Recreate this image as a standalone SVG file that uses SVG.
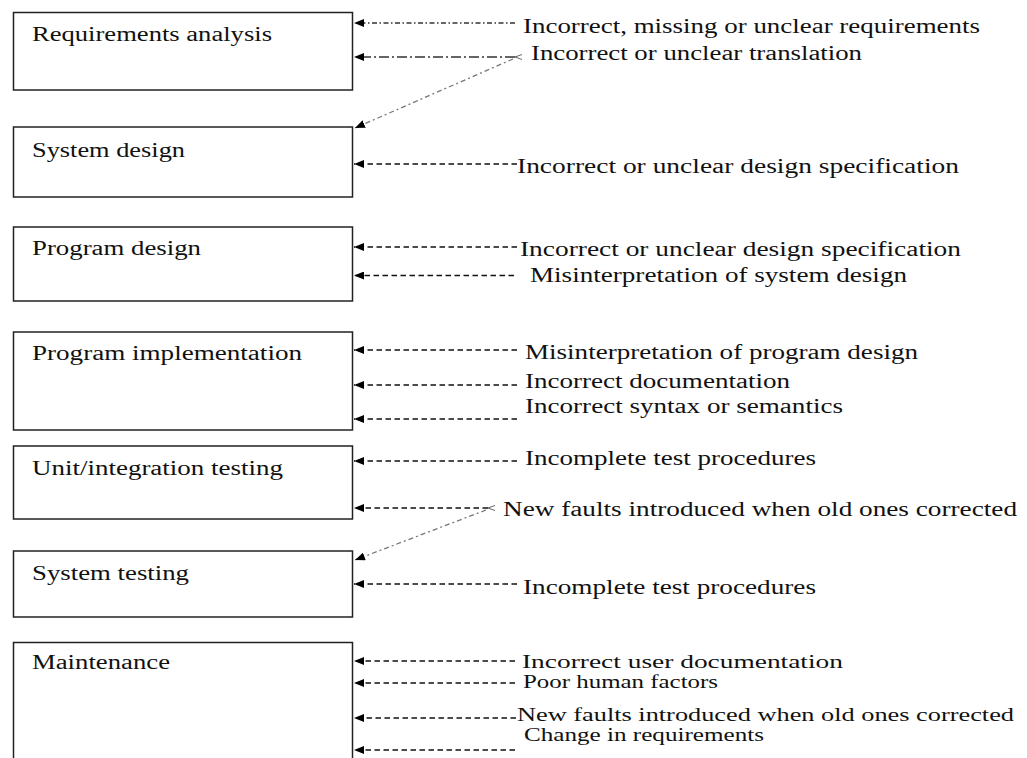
<svg xmlns="http://www.w3.org/2000/svg" width="1027" height="758" viewBox="0 0 1027 758">
<style>
.box{fill:#fff;stroke:#222;stroke-width:1.5}
.lbl{font-family:"Liberation Serif","Times New Roman",serif;font-size:20px;fill:#111}
.sm{font-size:18px}
.dash{fill:none;stroke:#111;stroke-width:1.3;stroke-dasharray:5.5 3.5}
.dd{fill:none;stroke:#333;stroke-width:1.3;stroke-dasharray:5 2.5 1.5 2.5}
.ldd{fill:none;stroke:#333;stroke-width:1.3;stroke-dasharray:10 3 2 3}
.diag{fill:none;stroke:#777;stroke-width:1.3;stroke-dasharray:5 3 2 3}
</style>
<defs>
<marker id="ah" markerUnits="userSpaceOnUse" markerWidth="10" markerHeight="8" refX="10" refY="4" orient="auto">
<path d="M0,0 L10,4 L0,8 z" fill="#000"/>
</marker>
<marker id="sh" markerUnits="userSpaceOnUse" markerWidth="8" markerHeight="6" refX="7" refY="3" orient="auto">
<path d="M0,0.5 L7,3 L0,5.5" fill="none" stroke="#666" stroke-width="1"/>
</marker>
</defs>
<rect width="1027" height="758" fill="#fff"/>
<g id="node-requirements">
<rect class="box" x="13.5" y="12.5" width="339" height="77.5"/>
<text class="lbl" x="32" y="41" textLength="240" lengthAdjust="spacingAndGlyphs">Requirements analysis</text>
</g>
<g id="node-system-design">
<rect class="box" x="13.5" y="127" width="339" height="70"/>
<text class="lbl" x="32" y="157" textLength="153" lengthAdjust="spacingAndGlyphs">System design</text>
</g>
<g id="node-program-design">
<rect class="box" x="13.5" y="227" width="339" height="74"/>
<text class="lbl" x="32" y="255" textLength="169" lengthAdjust="spacingAndGlyphs">Program design</text>
</g>
<g id="node-program-implementation">
<rect class="box" x="13.5" y="332" width="339" height="98"/>
<text class="lbl" x="32" y="360" textLength="270" lengthAdjust="spacingAndGlyphs">Program implementation</text>
</g>
<g id="node-unit-testing">
<rect class="box" x="13.5" y="446" width="339" height="73"/>
<text class="lbl" x="32" y="475" textLength="251" lengthAdjust="spacingAndGlyphs">Unit/integration testing</text>
</g>
<g id="node-system-testing">
<rect class="box" x="13.5" y="551" width="339" height="66"/>
<text class="lbl" x="32" y="580" textLength="157" lengthAdjust="spacingAndGlyphs">System testing</text>
</g>
<g id="node-maintenance">
<rect class="box" x="13.5" y="642.5" width="339" height="130"/>
<text class="lbl" x="32" y="669" textLength="138" lengthAdjust="spacingAndGlyphs">Maintenance</text>
</g>
<g id="connectors">
<line class="dd" x1="515" y1="23" x2="354" y2="23" marker-end="url(#ah)"/>
<line class="ldd" x1="515" y1="57" x2="354" y2="57" marker-start="url(#sh)" marker-end="url(#ah)"/>
<line class="diag" x1="513" y1="59" x2="355" y2="128" marker-end="url(#ah)"/>
<line class="dash" x1="517" y1="164" x2="354" y2="164" marker-end="url(#ah)"/>
<line class="dash" x1="517" y1="247" x2="354" y2="247" marker-end="url(#ah)"/>
<line class="dash" x1="514" y1="275.5" x2="354" y2="275.5" marker-end="url(#ah)"/>
<line class="dash" x1="517" y1="350" x2="354" y2="350" marker-end="url(#ah)"/>
<line class="dash" x1="517" y1="385" x2="354" y2="385" marker-end="url(#ah)"/>
<line class="dash" x1="517" y1="419" x2="354" y2="419" marker-end="url(#ah)"/>
<line class="dash" x1="517" y1="461" x2="354" y2="461" marker-end="url(#ah)"/>
<line class="dash" x1="488" y1="508" x2="354" y2="508" marker-start="url(#sh)" marker-end="url(#ah)"/>
<line class="diag" x1="486" y1="510" x2="355" y2="560" marker-end="url(#ah)"/>
<line class="dash" x1="517" y1="584" x2="354" y2="584" marker-end="url(#ah)"/>
<line class="dash" x1="515" y1="661" x2="354" y2="661" marker-end="url(#ah)"/>
<line class="dash" x1="515" y1="683" x2="354" y2="683" marker-end="url(#ah)"/>
<line class="dash" x1="516" y1="718" x2="354" y2="718" marker-end="url(#ah)"/>
<line class="dash" x1="515" y1="750" x2="354" y2="750" marker-end="url(#ah)"/>
</g>
<g id="labels">
<text class="lbl" x="523" y="33" textLength="457" lengthAdjust="spacingAndGlyphs">Incorrect, missing or unclear requirements</text>
<text class="lbl" x="531" y="60" textLength="331" lengthAdjust="spacingAndGlyphs">Incorrect or unclear translation</text>
<text class="lbl" x="517" y="173" textLength="442" lengthAdjust="spacingAndGlyphs">Incorrect or unclear design specification</text>
<text class="lbl" x="520" y="256" textLength="441" lengthAdjust="spacingAndGlyphs">Incorrect or unclear design specification</text>
<text class="lbl" x="530" y="282" textLength="377" lengthAdjust="spacingAndGlyphs">Misinterpretation of system design</text>
<text class="lbl" x="525" y="359" textLength="393" lengthAdjust="spacingAndGlyphs">Misinterpretation of program design</text>
<text class="lbl" x="525" y="388" textLength="265" lengthAdjust="spacingAndGlyphs">Incorrect documentation</text>
<text class="lbl" x="525" y="413" textLength="318" lengthAdjust="spacingAndGlyphs">Incorrect syntax or semantics</text>
<text class="lbl" x="525" y="465" textLength="291" lengthAdjust="spacingAndGlyphs">Incomplete test procedures</text>
<text class="lbl" x="503" y="516" textLength="514" lengthAdjust="spacingAndGlyphs">New faults introduced when old ones corrected</text>
<text class="lbl" x="523" y="594" textLength="293" lengthAdjust="spacingAndGlyphs">Incomplete test procedures</text>
<text class="lbl sm" x="522" y="668" textLength="321" lengthAdjust="spacingAndGlyphs">Incorrect user documentation</text>
<text class="lbl sm" x="523" y="688" textLength="195" lengthAdjust="spacingAndGlyphs">Poor human factors</text>
<text class="lbl sm" x="517" y="721" textLength="497" lengthAdjust="spacingAndGlyphs">New faults introduced when old ones corrected</text>
<text class="lbl sm" x="524" y="741" textLength="240" lengthAdjust="spacingAndGlyphs">Change in requirements</text>
</g>
</svg>
